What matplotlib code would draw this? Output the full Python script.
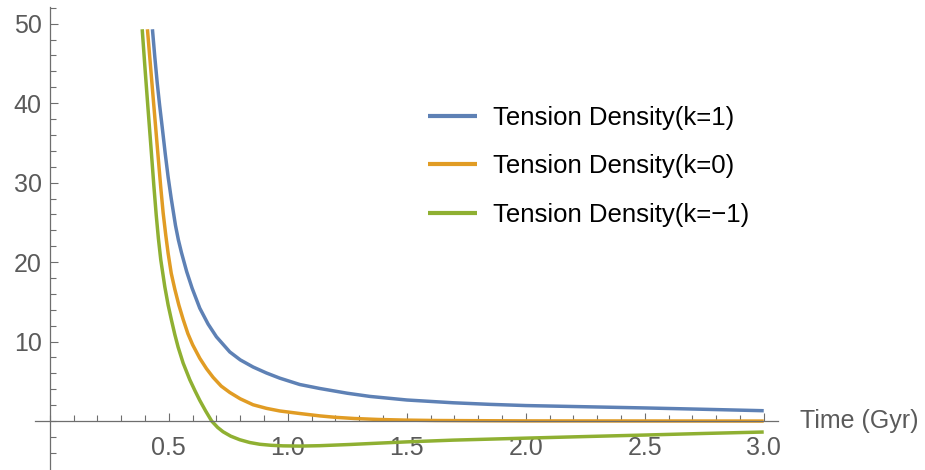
import matplotlib
matplotlib.use("Agg")
import matplotlib.pyplot as plt
from matplotlib.ticker import MultipleLocator, FixedLocator

plt.rcParams['font.family'] = ['Liberation Sans', 'DejaVu Sans']

# Time (Gyr) samples and tension density
t_k1 = [0.431, 0.441, 0.451, 0.461, 0.472, 0.485, 0.497, 0.510, 0.528, 0.540,
        0.553, 0.575, 0.598, 0.630, 0.665, 0.700, 0.756, 0.800, 0.854, 0.910,
        0.966, 1.05, 1.134, 1.25, 1.345, 1.5, 1.695, 1.85, 2.0, 2.25, 2.5, 2.75, 3.0]
v_k1 = [49.3, 45.8, 42.6, 39.8, 37.0, 33.6, 30.7, 28.0, 24.6, 22.8,
        21.2, 18.8, 16.7, 14.2, 12.2, 10.6, 8.7, 7.7, 6.8, 6.05,
        5.4, 4.6, 4.1, 3.5, 3.1, 2.65, 2.3, 2.1, 1.95, 1.8, 1.65, 1.48, 1.3]

t_k0 = [0.410, 0.422, 0.434, 0.445, 0.456, 0.466, 0.476, 0.487, 0.497, 0.510,
        0.525, 0.542, 0.560, 0.580, 0.600, 0.630, 0.658, 0.686, 0.720, 0.756,
        0.800, 0.854, 0.910, 0.966, 1.05, 1.134, 1.2, 1.28, 1.38, 1.49, 1.62,
        1.75, 2.0, 2.5, 3.0]
v_k0 = [49.3, 45.0, 40.7, 36.8, 32.9, 29.4, 26.2, 23.4, 21.1, 18.6,
        16.6, 14.6, 12.8, 11.0, 9.6, 7.9, 6.6, 5.5, 4.4, 3.6,
        2.8, 2.05, 1.6, 1.27, 0.95, 0.65, 0.47, 0.32, 0.2, 0.12, 0.07,
        0.05, 0.02, 0.01, 0.0]

t_km1 = [0.388, 0.400, 0.412, 0.425, 0.437, 0.447, 0.456, 0.466, 0.483, 0.497,
         0.511, 0.525, 0.539, 0.560, 0.588, 0.610, 0.630, 0.655, 0.680, 0.705,
         0.728, 0.760, 0.798, 0.840, 0.882, 0.930, 0.980, 1.05, 1.134, 1.26,
         1.345, 1.5, 1.695, 2.0, 2.25, 2.5, 2.75, 3.0]
v_km1 = [49.3, 44.3, 39.5, 34.4, 29.6, 25.9, 23.0, 20.3, 16.9, 14.6,
         12.7, 10.9, 9.3, 7.3, 5.2, 3.8, 2.6, 1.25, 0.0, -0.8,
         -1.35, -1.9, -2.35, -2.7, -2.92, -3.05, -3.12, -3.15, -3.1, -2.95,
         -2.83, -2.62, -2.4, -2.15, -1.95, -1.76, -1.56, -1.38]

labels = ["Tension Density(k=1)", "Tension Density(k=0)", "Tension Density(k=\u22121)"]
colors = ["#5E81B5", "#E19C24", "#8FB032"]

x_major = [0.5, 1.0, 1.5, 2.0, 2.5, 3.0]
x_labels = ["0.5", "1.0", "1.5", "2.0", "2.5", "3.0"]
y_major = [10, 20, 30, 40, 50]
y_labels = ["10", "20", "30", "40", "50"]

W, H = 925, 470
fig = plt.figure(figsize=(W / 100, H / 100), dpi=100)
ax = fig.add_axes([35 / W, 1 - 468.5 / H, (778 - 35) / W, (468.5 - 7) / H])

for t, v, lab, c in zip([t_k1, t_k0, t_km1], [v_k1, v_k0, v_km1], labels, colors):
    ax.plot(t, v, color=c, lw=2.5, label=lab, solid_capstyle='butt', solid_joinstyle='round')

ax.set_xlim(-0.0625, 3.06)
ax.set_ylim(-5.97, 52.1)

axis_col = "#6e6e6e"
label_col = "#5a5a5a"
for s in ['top', 'right']:
    ax.spines[s].set_visible(False)
ax.spines['left'].set_position(('data', 0))
ax.spines['bottom'].set_position(('data', 0))
for s in ['left', 'bottom']:
    ax.spines[s].set_color(axis_col)
    ax.spines[s].set_linewidth(0.9)

ax.xaxis.set_major_locator(FixedLocator(x_major))
ax.set_xticklabels(x_labels)
ax.xaxis.set_minor_locator(MultipleLocator(0.1))
ax.yaxis.set_major_locator(FixedLocator(y_major))
ax.set_yticklabels(y_labels)
ax.yaxis.set_minor_locator(MultipleLocator(2))

ax.tick_params(axis='both', which='both', direction='in', color=axis_col, width=0.8,
               labelcolor=label_col, labelsize=18)
ax.tick_params(axis='both', which='major', length=6)
ax.tick_params(axis='both', which='minor', length=4)
ax.tick_params(axis='x', which='major', pad=10.5)
ax.tick_params(axis='y', which='major', pad=6)

fig.text(800 / W, 1 - 421 / H, "Time (Gyr)", color=label_col, fontsize=18,
         ha='left', va='center')

leg = ax.legend(loc='upper left', bbox_to_anchor=(428 / W, 1 - 106 / H),
                bbox_transform=fig.transFigure, frameon=False, fontsize=18.5,
                handlelength=1.9, handletextpad=0.62, labelspacing=0.95,
                borderpad=0, borderaxespad=0)
for line in leg.get_lines():
    line.set_linewidth(3)

fig.savefig("out.png", dpi=100)
